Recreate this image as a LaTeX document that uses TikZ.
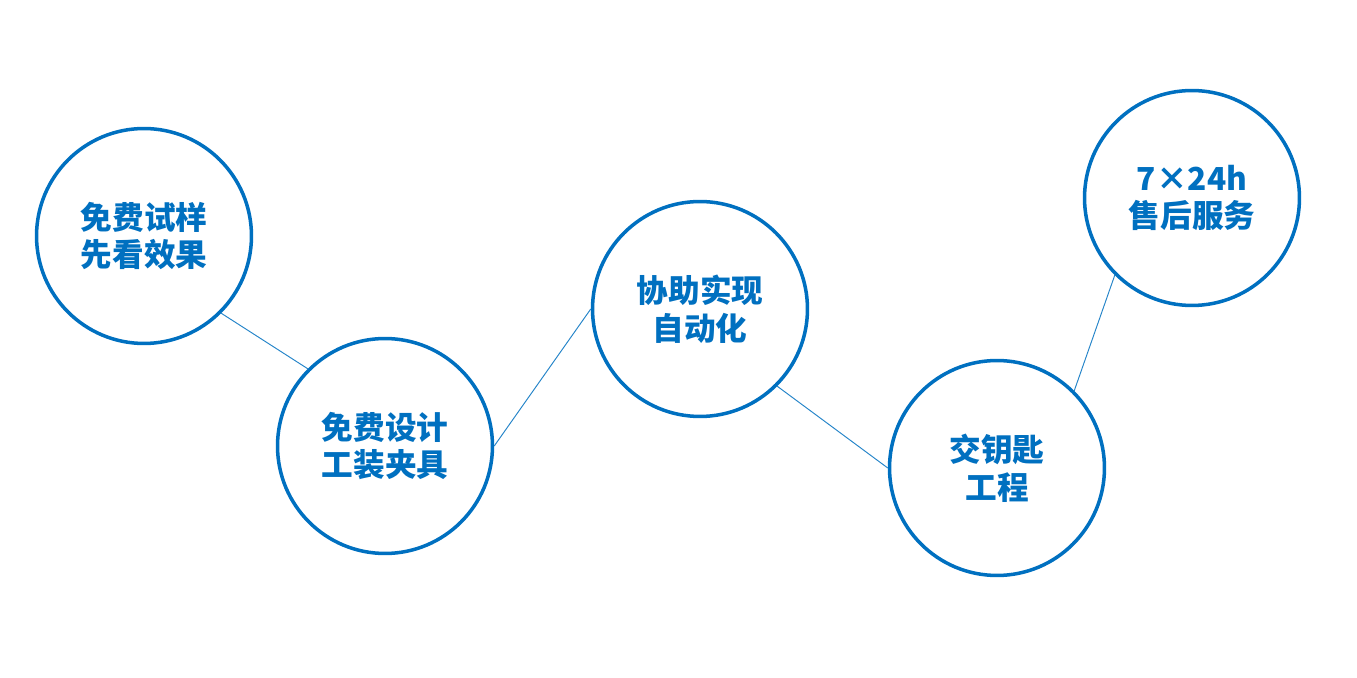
\documentclass[tikz,border=0pt]{standalone}
\usepackage{fontspec}
\newfontfamily\cjk{Noto Sans CJK SC}
\definecolor{serviceblue}{RGB}{0,112,192}
\begin{document}
\begin{tikzpicture}[x=0.02cm,y=-0.02cm,
  step circle/.style={circle,draw=serviceblue,line width=2pt,fill=white,
                      minimum size=4.3cm,inner sep=0pt,align=center,
                      text=serviceblue,
                      font=\cjk\bfseries\fontsize{18}{21.5}\selectfont},
  link/.style={draw=serviceblue!85,line width=0.55pt}]
\path[use as bounding box] (0,0) rectangle (1357,678);
\node[step circle] (trial) at (144,236) {免费试样\\先看效果};
\node[step circle] (fixture) at (385,446) {免费设计\\工装夹具};
\node[step circle] (auto) at (700,309) {协助实现\\自动化};
\node[step circle] (turnkey) at (997,468) {交钥匙\\工程};
\node[step circle] (support) at (1192,198) {7×24h\\售后服务};
\draw[link] (trial.-45) -- (fixture.135);
\draw[link] (fixture.east) -- (auto.west);
\draw[link] (auto.-45) -- (turnkey.west);
\draw[link] (turnkey.45) -- (support.-135);
\end{tikzpicture}
\end{document}
